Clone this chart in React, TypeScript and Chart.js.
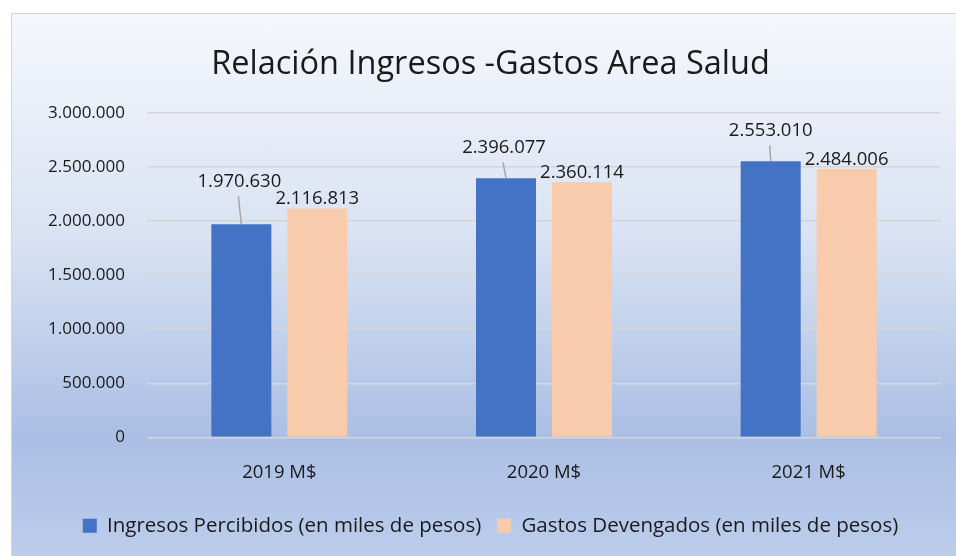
import React, { useEffect, useRef } from "react";
import { Chart, registerables } from "chart.js";

Chart.register(...registerables);

const categories = ["2019 M$", "2020 M$", "2021 M$"];
const ingresos = [1970630, 2396077, 2553010];
const gastos = [2116813, 2360114, 2484006];
const seriesNames = [
  "Ingresos Percibidos (en miles de pesos)",
  "Gastos Devengados (en miles de pesos)",
];
const titleText = "Relación Ingresos -Gastos Area Salud";

const FONT = "'Open Sans', 'DejaVu Sans', sans-serif";

const fmt = (v: number) =>
  String(Math.round(v)).replace(/\B(?=(\d{3})+(?!\d))/g, ".");

const labelPlugin = {
  id: "barLabels",
  afterDatasetsDraw(chart: any) {
    const ctx = chart.ctx;
    const opts = chart.options.plugins.barLabels;
    ctx.save();
    ctx.font = `18.5px ${FONT}`;
    ctx.fillStyle = "#1a1a1a";
    ctx.textAlign = "center";
    chart.data.datasets.forEach((ds: any, di: number) => {
      const meta = chart.getDatasetMeta(di);
      meta.data.forEach((bar: any, i: number) => {
        const v = ds.data[i];
        const text = fmt(v);
        if (di === 0) {
          const off = opts.leaderOffsets[i];
          const dx = opts.leaderDx[i];
          const lx = bar.x + dx;
          const ly = bar.y - off;
          ctx.textBaseline = "middle";
          ctx.fillText(text, lx, ly);
          ctx.strokeStyle = "#a6a6a6";
          ctx.lineWidth = 1.5;
          ctx.beginPath();
          ctx.moveTo(lx - 1, ly + 15);
          ctx.lineTo(bar.x, bar.y);
          ctx.stroke();
        } else {
          ctx.textBaseline = "alphabetic";
          ctx.fillText(text, bar.x, bar.y - 4);
        }
      });
    });
    ctx.restore();
  },
};

export default function App() {
  const ref = useRef<HTMLCanvasElement | null>(null);
  useEffect(() => {
    if (!ref.current) return;
    const chart = new Chart(ref.current, {
      type: "bar",
      data: {
        labels: categories,
        datasets: [
          {
            label: seriesNames[0],
            data: ingresos,
            backgroundColor: "#4472c4",
            categoryPercentage: 0.574,
            barPercentage: 0.79,
          },
          {
            label: seriesNames[1],
            data: gastos,
            backgroundColor: "#f8cbad",
            categoryPercentage: 0.574,
            barPercentage: 0.79,
          },
        ],
      },
      options: {
        animation: false,
        responsive: false,
        maintainAspectRatio: false,
        layout: { padding: { left: 28, right: 14, top: 0, bottom: 9 } },
        scales: {
          x: {
            grid: { display: false },
            border: { display: false },
            ticks: {
              color: "#1a1a1a",
              font: { family: FONT, size: 18.5 },
              padding: 16,
            },
          },
          y: {
            min: 0,
            max: 3000000,
            afterFit: (scale: any) => {
              scale.width = 107;
            },
            grid: { color: "#d6d6d6", lineWidth: 1.5, drawTicks: false },
            border: { display: false },
            ticks: {
              stepSize: 500000,
              color: "#1a1a1a",
              font: { family: FONT, size: 17 },
              padding: 22,
              callback: (v: any) => fmt(Number(v)),
            },
          },
        },
        plugins: {
          title: {
            display: true,
            text: titleText,
            color: "#1a1a1a",
            font: { family: FONT, size: 32.5, weight: "normal" },
            padding: { top: 31, bottom: 29 },
          },
          legend: {
            position: "bottom",
            labels: {
              color: "#1a1a1a",
              font: { family: FONT, size: 20.5 },
              boxWidth: 14,
              boxHeight: 14,
              padding: 16,
            },
          },
          tooltip: { enabled: false },
          barLabels: {
            leaderOffsets: [43, 31, 31],
            leaderDx: [-2, -2, 0],
          },
        } as any,
      },
      plugins: [labelPlugin],
    });
    return () => chart.destroy();
  }, []);

  return (
    <div
      style={{
        position: "fixed",
        left: 11,
        top: 13,
        width: 945,
        height: 543,
        borderLeft: "1.5px solid #d4d4d4",
        borderTop: "1.5px solid #d4d4d4",
        background:
          "linear-gradient(to bottom, #f5f7fc 0%, #dae3f3 40%, #aabfe4 78%, #bccdec 100%)",
        boxSizing: "border-box",
      }}
    >
      <canvas ref={ref} width={943} height={541} style={{ display: "block" }} />
    </div>
  );
}
